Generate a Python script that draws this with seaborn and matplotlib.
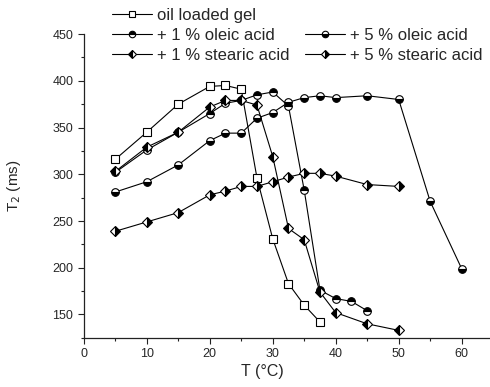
import numpy as np
import pandas as pd
import matplotlib
matplotlib.use("Agg")
import matplotlib.pyplot as plt
from matplotlib.lines import Line2D
from matplotlib.ticker import MultipleLocator
import seaborn as sns

sns.set_style("ticks")
plt.rcParams["font.family"] = ["Liberation Sans", "DejaVu Sans"]

# ---- data ----
t_gel = [5, 10, 15, 20, 22.5, 25, 27.5, 30, 32.5, 35, 37.5]
t2_gel = [316, 345, 375, 394, 395, 391, 296, 231, 183, 160, 142]

t_ole1 = [5, 10, 15, 20, 22.5, 25, 27.5, 30, 32.5, 35, 37.5, 40, 42.5, 45]
t2_ole1 = [302, 326, 345, 365, 376, 379, 385, 388, 373, 283, 176, 167, 164, 154]

t_ole5 = [5, 10, 15, 20, 22.5, 25, 27.5, 30, 32.5, 35, 37.5, 40, 45, 50, 55, 60]
t2_ole5 = [281, 292, 310, 336, 344, 344, 360, 366, 377, 382, 384, 382, 384, 380, 271, 199]

t_ste1 = [5, 10, 15, 20, 22.5, 25, 27.5, 30, 32.5, 35, 37.5, 40, 45, 50]
t2_ste1 = [303, 329, 345, 372, 379, 379, 374, 319, 242, 230, 174, 152, 140, 133]

t_ste5 = [5, 10, 15, 20, 22.5, 25, 27.5, 30, 32.5, 35, 37.5, 40, 45, 50]
t2_ste5 = [239, 249, 259, 278, 282, 287, 287, 292, 297, 301, 301, 298, 289, 287]

series = [
    ("oil loaded gel", t_gel, t2_gel, "s", "none"),
    ("+ 1 % oleic acid", t_ole1, t2_ole1, "o", "top"),
    ("+ 5 % oleic acid", t_ole5, t2_ole5, "o", "bottom"),
    ("+ 1 % stearic acid", t_ste1, t2_ste1, "D", "left"),
    ("+ 5 % stearic acid", t_ste5, t2_ste5, "D", "right"),
]

fig = plt.figure(figsize=(4.9, 3.87), dpi=100)
ax = fig.add_axes([0.171, 0.127, 0.829, 0.785])

handles = {}
for name, x, y, mk, fs in series:
    df = pd.DataFrame({"T": x, "T2": y})
    face = "white" if fs == "none" else "black"
    sns.lineplot(data=df, x="T", y="T2", ax=ax, color="black", lw=0.8,
                 marker=mk, markersize=5.5 if mk != "D" else 5.2,
                 fillstyle="full" if fs == "none" else fs,
                 markerfacecolor=face, markerfacecoloralt="white",
                 markeredgecolor="black", markeredgewidth=0.8)
    handles[name] = ax.lines[-1]

ax.set_xlim(0, 64.5)
ax.set_ylim(125, 450)
ax.xaxis.set_major_locator(MultipleLocator(10))
ax.xaxis.set_minor_locator(MultipleLocator(5))
ax.yaxis.set_major_locator(MultipleLocator(50))
ax.yaxis.set_minor_locator(MultipleLocator(25))
ax.set_yticks([150, 200, 250, 300, 350, 400, 450])
ax.tick_params(which="both", direction="out", width=0.8, labelsize=9, color="#222222")
ax.tick_params(which="major", length=4)
ax.tick_params(which="minor", length=2.5)
for sp in ["top", "right"]:
    ax.spines[sp].set_visible(False)
for sp in ["left", "bottom"]:
    ax.spines[sp].set_linewidth(0.9)
    ax.spines[sp].set_color("#222222")

ax.set_xlabel("T (°C)", fontsize=11.5)
ax.set_ylabel("T$_2$ (ms)", fontsize=11)
ax.xaxis.set_label_coords(0.44, -0.085)
ax.yaxis.set_label_coords(-0.15, 0.5)

blank = Line2D([], [], color="none")
order = [handles["oil loaded gel"], handles["+ 1 % oleic acid"], handles["+ 1 % stearic acid"],
         blank, handles["+ 5 % oleic acid"], handles["+ 5 % stearic acid"]]
labels = ["oil loaded gel", "+ 1 % oleic acid", "+ 1 % stearic acid",
          "", "+ 5 % oleic acid", "+ 5 % stearic acid"]
fig.legend(order, labels, ncol=2, loc="upper left", bbox_to_anchor=(0.209, 1.005),
           frameon=False, fontsize=12, handlelength=2.4, handletextpad=0.3,
           columnspacing=0.9, labelspacing=0.3, borderaxespad=0.2, markerscale=0.85)

fig.savefig("out.png", dpi=100)
